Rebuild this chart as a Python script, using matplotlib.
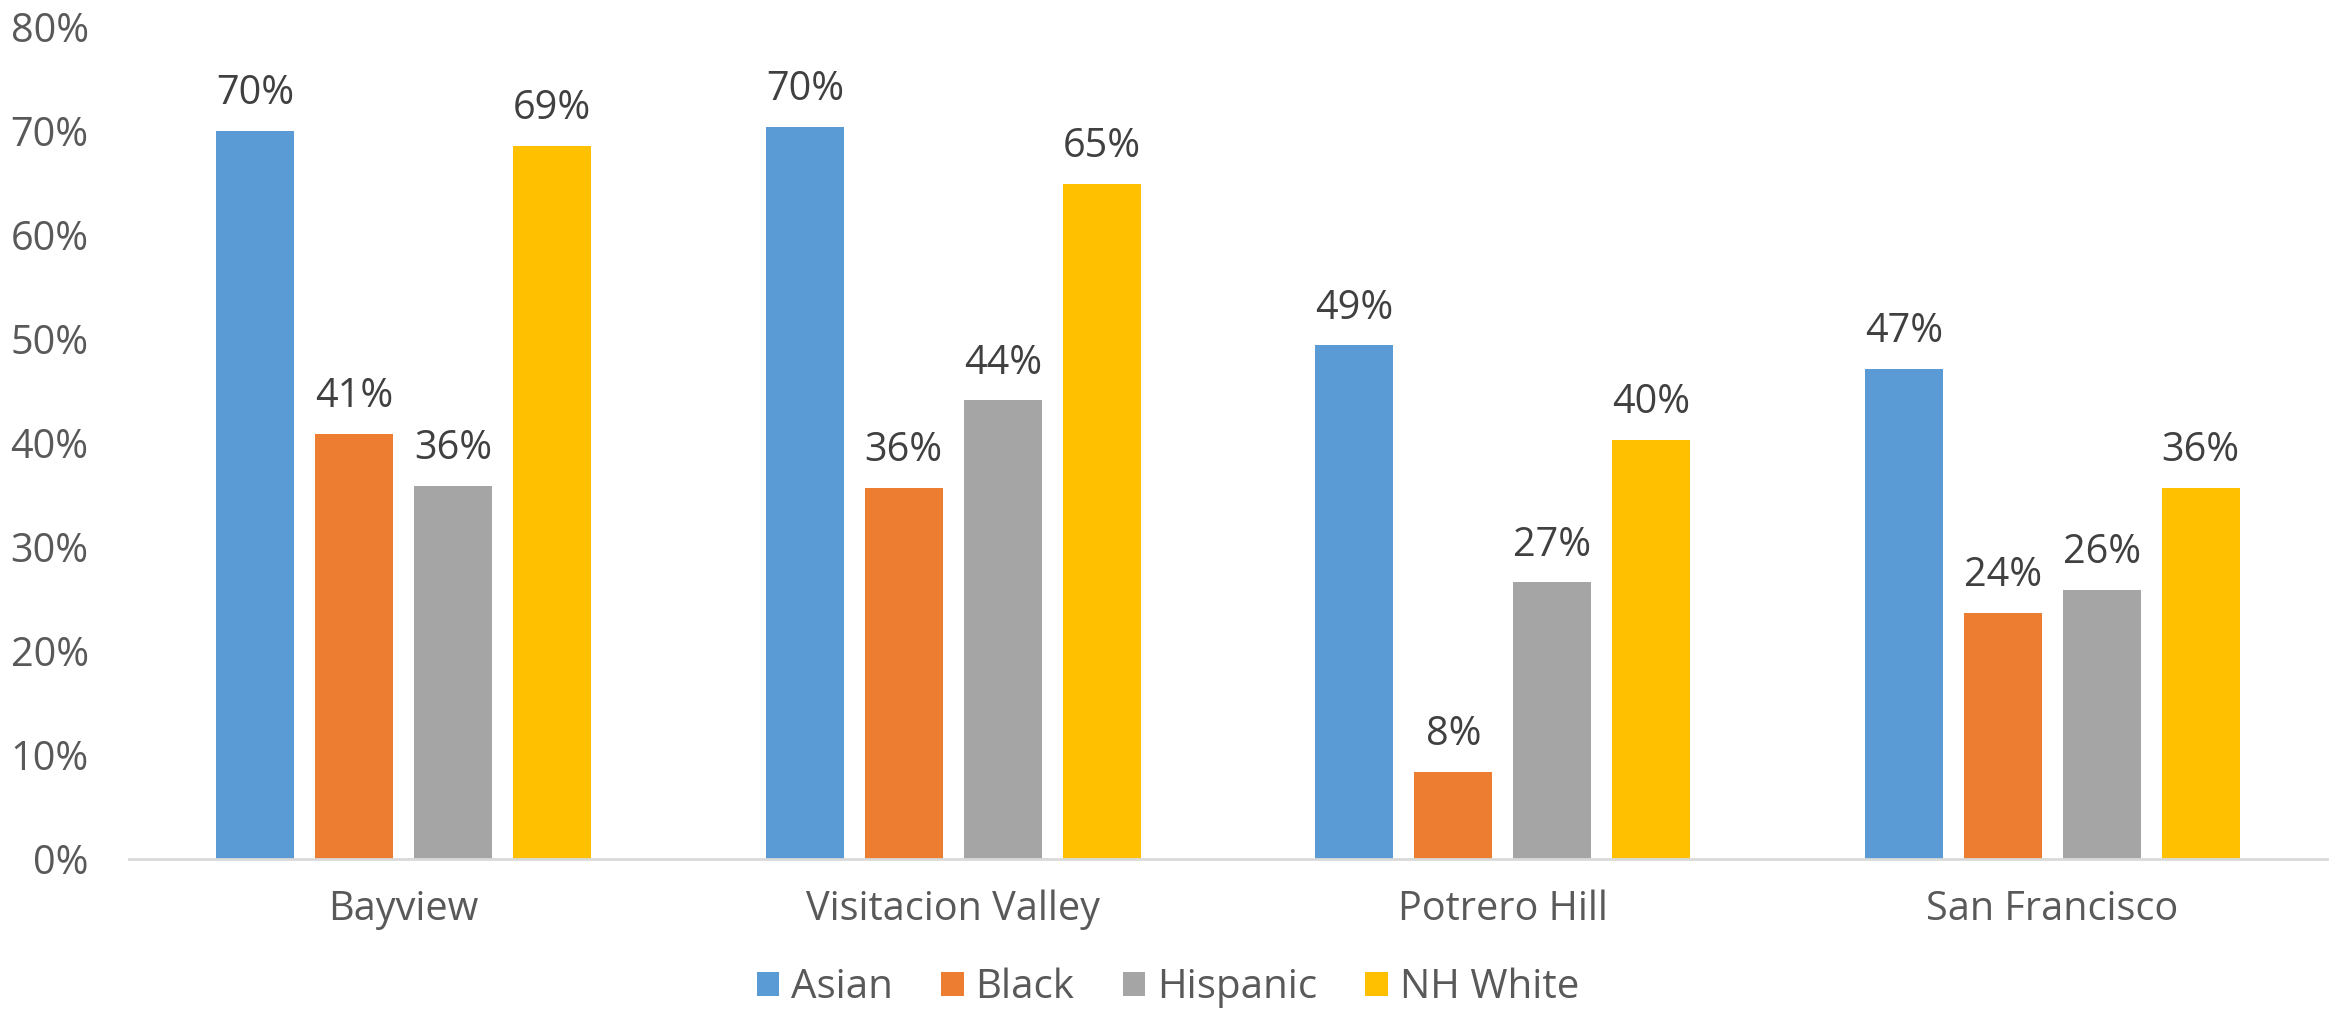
import matplotlib
matplotlib.use("Agg")
import matplotlib.pyplot as plt
import numpy as np
from matplotlib.patches import Patch

categories = ["Bayview", "Visitacion Valley", "Potrero Hill", "San Francisco"]
series_names = ["Asian", "Black", "Hispanic", "NH White"]
asian = [0.700, 0.704, 0.494, 0.471]
black = [0.409, 0.357, 0.084, 0.237]
hispanic = [0.359, 0.441, 0.266, 0.259]
nh_white = [0.686, 0.649, 0.403, 0.357]
colors = ["#5B9BD5", "#ED7D31", "#A5A5A5", "#FFC000"]
yticks = [0, 0.1, 0.2, 0.3, 0.4, 0.5, 0.6, 0.7, 0.8]

plt.rcParams['font.family'] = ['Open Sans', 'DejaVu Sans']

fig = plt.figure(figsize=(23.36, 10.10), dpi=100)
ax = fig.add_axes([129/2336, 1-859/1010, (2327-129)/2336, (859-27)/1010])

data = [asian, black, hispanic, nh_white]
x = np.arange(len(categories))
step = 0.18
width = 0.142
for i, (vals, c) in enumerate(zip(data, colors)):
    pos = x + (i - 1.5) * step
    bars = ax.bar(pos, vals, width=width, color=c, zorder=3)
    for b, v in zip(bars, vals):
        ax.annotate(f"{round(v*100):.0f}%", (b.get_x() + b.get_width()/2, v),
                    xytext=(0, 12), textcoords="offset points",
                    ha="center", va="bottom", fontsize=28.5, color="#404040")

ax.set_xlim(-0.5, len(categories) - 0.5)
ax.set_ylim(0, 0.8)
ax.set_yticks(yticks)
ax.set_yticklabels([f"{int(round(t*100))}%" for t in yticks], fontsize=28.5, color="#595959")
ax.set_xticks(x)
ax.set_xticklabels(categories, fontsize=28.5, color="#595959")
ax.tick_params(axis="both", length=0)
ax.tick_params(axis="y", pad=29)
ax.tick_params(axis="x", pad=22)
for s in ["top", "right", "left"]:
    ax.spines[s].set_visible(False)
ax.spines["bottom"].set_color("#D9D9D9")
ax.spines["bottom"].set_linewidth(2)
ax.spines["bottom"].set_zorder(4)

handles = [Patch(facecolor=c, label=n) for c, n in zip(colors, series_names)]
leg = fig.legend(handles=handles, loc="center", bbox_to_anchor=(0.5, 1-988/1010), ncol=4,
                 frameon=False, fontsize=29, handlelength=0.55, handleheight=0.55,
                 handletextpad=0.3, columnspacing=1.2)
for t in leg.get_texts():
    t.set_color("#595959")

fig.savefig("out.png", dpi=100, facecolor="white")
